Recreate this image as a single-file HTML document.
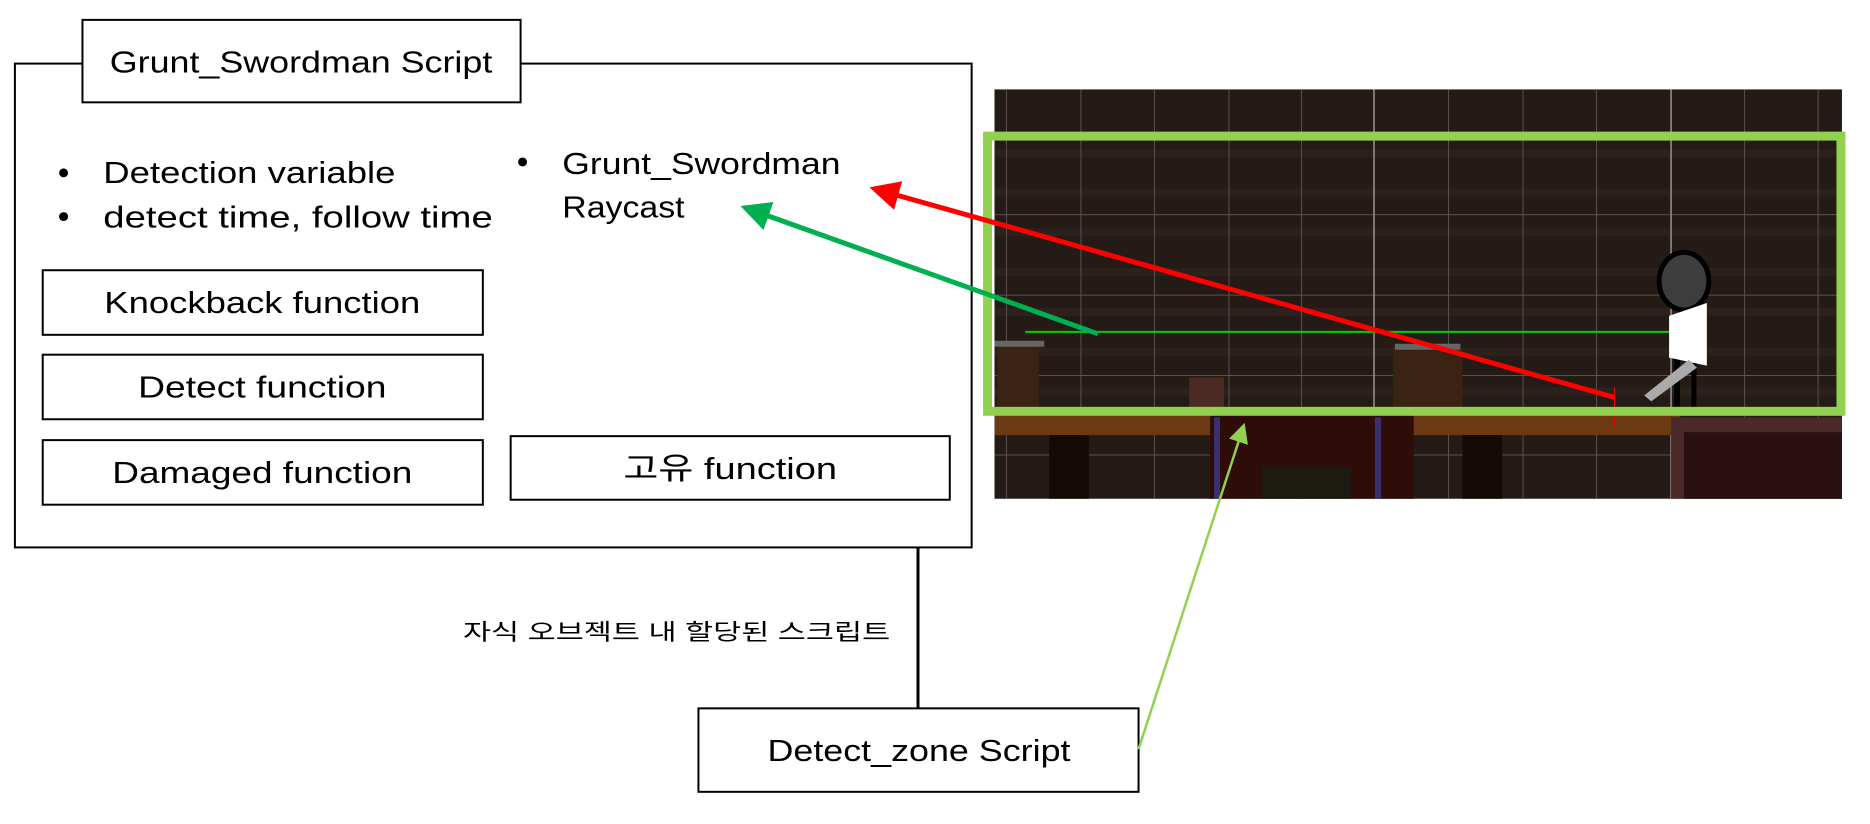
<!DOCTYPE html>
<html><head><meta charset="utf-8"><style>
html,body{margin:0;padding:0;background:#fff;}
svg{display:block}
text{font-family:"Liberation Sans","Noto Sans CJK KR",sans-serif;fill:#000}
</style></head><body>
<svg width="1870" height="824" viewBox="0 0 1870 824" xmlns="http://www.w3.org/2000/svg">
<defs>
<marker id="ar" markerWidth="6" markerHeight="6" refX="5" refY="3" orient="auto" markerUnits="strokeWidth"><path d="M0,0 L6,3 L0,6 z" fill="#ff0000"/></marker>
<marker id="ag" markerWidth="6" markerHeight="6" refX="5" refY="3" orient="auto" markerUnits="strokeWidth"><path d="M0,0 L6,3 L0,6 z" fill="#00b050"/></marker>
<marker id="al" markerWidth="8" markerHeight="8" refX="7" refY="4" orient="auto" markerUnits="strokeWidth"><path d="M0,0 L8,4 L0,8 z" fill="#92d050"/></marker>
</defs>
<g transform="scale(0.9935)">
<rect x="15" y="64" width="963" height="487" fill="#fff" stroke="#000" stroke-width="2"/>
<rect x="83" y="20" width="441" height="83" fill="#fff" stroke="#000" stroke-width="2"/>
<text x="303" y="73" font-size="31" text-anchor="middle" textLength="385" lengthAdjust="spacingAndGlyphs">Grunt_Swordman Script</text>
<circle cx="64" cy="174" r="4.5" fill="#000"/>
<circle cx="64" cy="218" r="4.5" fill="#000"/>
<text x="104" y="184" font-size="31" textLength="294" lengthAdjust="spacingAndGlyphs">Detection variable</text>
<text x="104" y="229" font-size="31" textLength="392" lengthAdjust="spacingAndGlyphs">detect time, follow time</text>
<circle cx="526" cy="163" r="4.5" fill="#000"/>
<text x="566" y="175" font-size="31" textLength="280" lengthAdjust="spacingAndGlyphs">Grunt_Swordman</text>
<text x="566" y="219" font-size="31" textLength="123" lengthAdjust="spacingAndGlyphs">Raycast</text>
<rect x="43" y="272" width="443" height="65" fill="#fff" stroke="#000" stroke-width="2"/>
<text x="264" y="315" font-size="31" text-anchor="middle" textLength="318" lengthAdjust="spacingAndGlyphs">Knockback function</text>
<rect x="43" y="357" width="443" height="65" fill="#fff" stroke="#000" stroke-width="2"/>
<text x="264" y="400" font-size="31" text-anchor="middle" textLength="250" lengthAdjust="spacingAndGlyphs">Detect function</text>
<rect x="43" y="443" width="443" height="65" fill="#fff" stroke="#000" stroke-width="2"/>
<text x="264" y="486" font-size="31" text-anchor="middle" textLength="302" lengthAdjust="spacingAndGlyphs">Damaged function</text>
<rect x="514" y="439" width="442" height="64" fill="#fff" stroke="#000" stroke-width="2"/>
<text x="735" y="482" font-size="31" text-anchor="middle" textLength="215" lengthAdjust="spacingAndGlyphs">고유 function</text>
<line x1="924" y1="551" x2="924" y2="713" stroke="#000" stroke-width="3"/>
<text x="681" y="644" font-size="23" text-anchor="middle" textLength="430" lengthAdjust="spacingAndGlyphs">자식 오브젝트 내 할당된 스크립트</text>
<rect x="703" y="713" width="443" height="84" fill="#fff" stroke="#000" stroke-width="2"/>
<text x="925" y="766" font-size="31" text-anchor="middle" textLength="305" lengthAdjust="spacingAndGlyphs">Detect_zone Script</text>
<g>
<rect x="1001" y="90" width="853" height="412" fill="#241b17"/>
<g fill="#2c211c">
<rect x="1001" y="150" width="853" height="8"/><rect x="1001" y="190" width="853" height="8"/><rect x="1001" y="230" width="853" height="8"/><rect x="1001" y="270" width="853" height="8"/><rect x="1001" y="310" width="853" height="8"/><rect x="1001" y="350" width="853" height="8"/><rect x="1001" y="390" width="853" height="8"/>
</g>
<g stroke="#5a5250" stroke-width="1">
<line x1="1013" y1="90" x2="1013" y2="502"/><line x1="1088" y1="90" x2="1088" y2="502"/><line x1="1162" y1="90" x2="1162" y2="502"/><line x1="1237" y1="90" x2="1237" y2="502"/><line x1="1310" y1="90" x2="1310" y2="502"/><line x1="1458" y1="90" x2="1458" y2="502"/><line x1="1533" y1="90" x2="1533" y2="502"/><line x1="1607" y1="90" x2="1607" y2="502"/><line x1="1756" y1="90" x2="1756" y2="502"/><line x1="1830" y1="90" x2="1830" y2="502"/>
<line x1="1001" y1="216" x2="1854" y2="216"/><line x1="1001" y1="297" x2="1854" y2="297"/><line x1="1001" y1="378" x2="1854" y2="378"/><line x1="1001" y1="458" x2="1854" y2="458"/>
</g>
<g stroke="#9a9494" stroke-width="1.5"><line x1="1383" y1="90" x2="1383" y2="502"/><line x1="1682" y1="90" x2="1682" y2="502"/></g>
<rect x="1004" y="347" width="42" height="65" fill="#3b2314"/><rect x="1001" y="343" width="50" height="6" fill="#666"/>
<rect x="1402" y="350" width="70" height="62" fill="#3b2314"/><rect x="1404" y="346" width="66" height="6" fill="#666"/>
<rect x="1197" y="380" width="35" height="32" fill="#4a2a22"/>
<rect x="1001" y="418" width="690" height="20" fill="#6b3a12"/>
<rect x="1218" y="418" width="205" height="84" fill="#2e0c08"/>
<rect x="1222" y="420" width="6" height="82" fill="#3a3070"/><rect x="1384" y="420" width="6" height="82" fill="#3a3070"/>
<rect x="1056" y="438" width="40" height="64" fill="#150b06"/><rect x="1472" y="438" width="40" height="64" fill="#150b06"/>
<rect x="1270" y="470" width="90" height="32" fill="#1d1a12"/>
<rect x="1682" y="420" width="172" height="82" fill="#4a2a28"/>
<rect x="1695" y="435" width="159" height="67" fill="#2a1010"/>
<line x1="1032" y1="334" x2="1680" y2="334" stroke="#00d000" stroke-width="2"/>
<line x1="1688" y1="340" x2="1688" y2="418" stroke="#000" stroke-width="6"/>
<line x1="1705" y1="340" x2="1705" y2="418" stroke="#000" stroke-width="5"/>
<ellipse cx="1695" cy="283" rx="25" ry="29" fill="#3d3d3d" stroke="#000" stroke-width="5"/>
<polygon points="1680,318 1718,305 1718,368 1680,360" fill="#fff"/>
<polygon points="1655,398 1700,362 1708,370 1662,404" fill="#aaa"/>
<line x1="1625" y1="390" x2="1625" y2="430" stroke="#ff0000" stroke-width="1"/>
</g>
<rect x="994" y="137" width="859" height="277" fill="none" stroke="#92d050" stroke-width="9"/>
<line x1="1625" y1="400" x2="880" y2="190" stroke="#ff0000" stroke-width="5" marker-end="url(#ar)"/>
<line x1="1105" y1="336" x2="750" y2="209" stroke="#00b050" stroke-width="5" marker-end="url(#ag)"/>
<line x1="1146" y1="754" x2="1252" y2="428" stroke="#92d050" stroke-width="2.5" marker-end="url(#al)"/>
</g>
</svg>
</body></html>
